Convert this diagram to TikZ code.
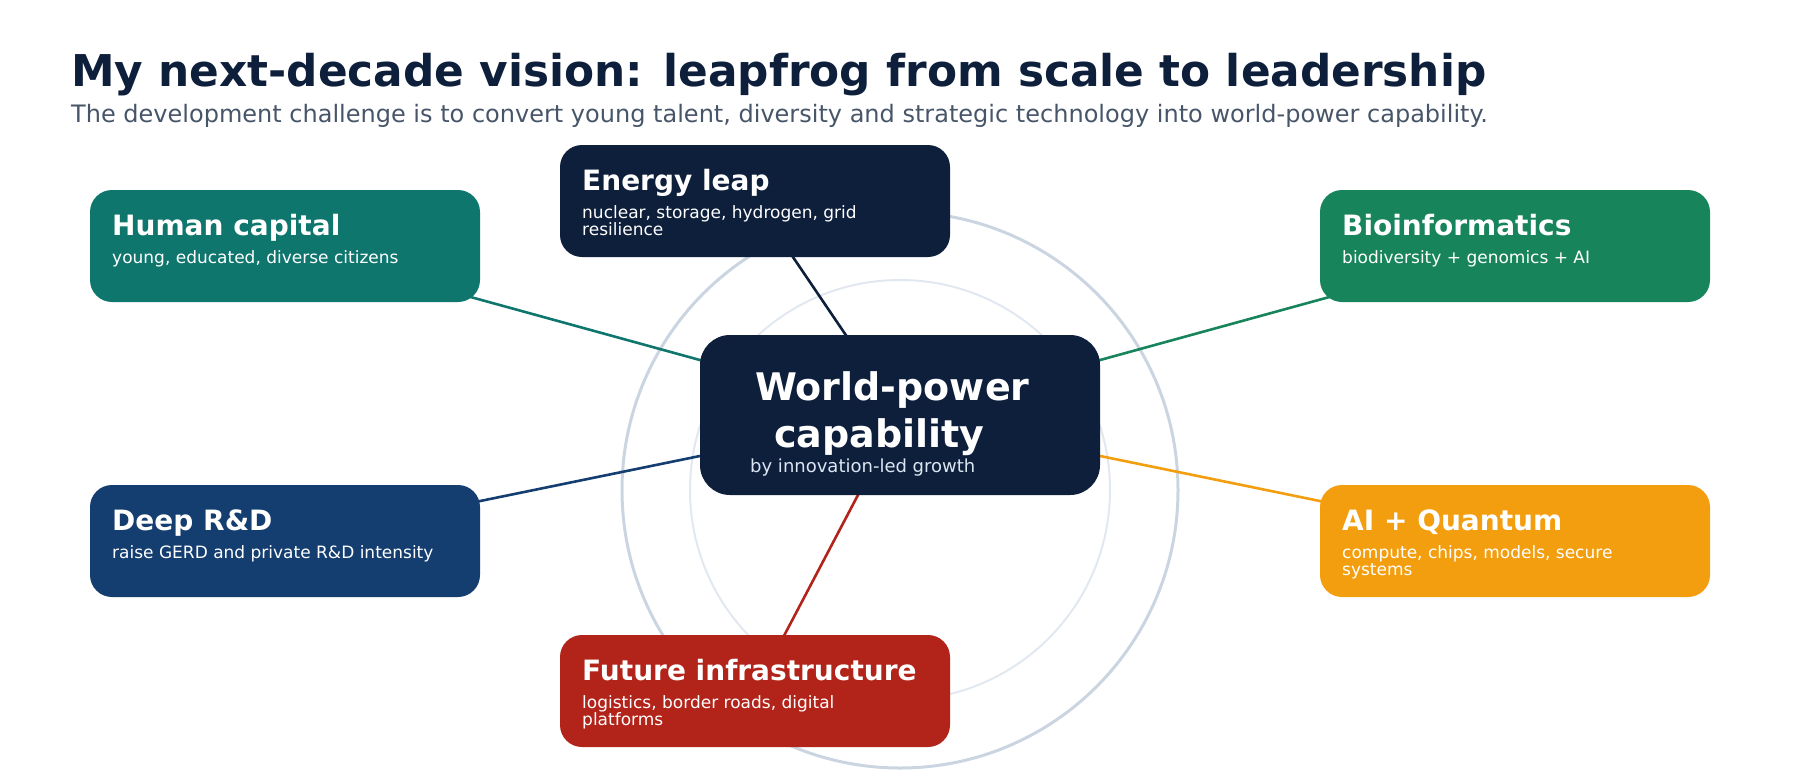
\documentclass[tikz,border=0pt]{standalone}
\usepackage{fontspec}
\setmainfont{DejaVu Sans}
\usetikzlibrary{backgrounds}
\pgfdeclarelayer{rings}
\pgfdeclarelayer{background}
\pgfsetlayers{rings,background,main}
\definecolor{navy}{HTML}{0E1F3B}
\definecolor{slate}{HTML}{475569}
\definecolor{tealc}{HTML}{0F766E}
\definecolor{greenc}{HTML}{18845C}
\definecolor{bluec}{HTML}{143D70}
\definecolor{amber}{HTML}{F39E0F}
\definecolor{redc}{HTML}{B2231A}
\definecolor{ringo}{HTML}{CBD5E1}
\definecolor{ringi}{HTML}{E2E8F0}
\definecolor{subc}{HTML}{DCE5F2}
\tikzset{
  card/.style={rounded corners=22pt, minimum width=390pt, minimum height=112pt, inner sep=0pt, draw=none},
  hub/.style={rounded corners=30pt, minimum width=400pt, minimum height=160pt, inner sep=0pt, fill=navy},
  ttl/.style={anchor=base west, inner sep=0pt, text=white, font=\fontsize{28}{30}\selectfont\bfseries},
  sub/.style={anchor=base west, inner sep=0pt, text=white, align=left, font=\fontsize{17}{17}\selectfont},
  hubt/.style={anchor=base west, inner sep=0pt, text=white, font=\fontsize{38}{40}\selectfont\bfseries},
  conn/.style={line width=2.6pt},
}
\begin{document}
\begin{tikzpicture}[x=1pt,y=-1pt]
\useasboundingbox (0,0) rectangle (1800,780);
% title
\node[anchor=base west, inner sep=0pt, text=navy, font=\fontsize{43.8}{48}\selectfont\bfseries] (title) at (71,86) {My next-decade vision: leapfrog from scale to leadership};
\node[anchor=base west, inner sep=0pt, text=slate, font=\fontsize{24}{28}\selectfont] (subtitle) at (71,122) {The development challenge is to convert young talent, diversity and strategic technology into world-power capability.};
% rings
\begin{pgfonlayer}{rings}
\coordinate (ringc) at (900,490);
\draw[ringo, line width=3pt] (ringc) circle (278);
\draw[ringi, line width=2pt] (ringc) circle (210);
\end{pgfonlayer}
% hub
\node[hub] (c) at (900,415) {};
\node[hubt] (c1) at (755,400) {World-power};
\node[hubt] (c2) at (774,447) {capability};
\node[anchor=base west, inner sep=0pt, text=subc, font=\fontsize{18}{20}\selectfont] (c3) at (750,472) {by innovation-led growth};
% cards
\node[card, fill=tealc] (h) at (285,246) {};
\node[ttl] (h1) at (112,235) {Human capital};
\node[sub] (h2) at (112,263) {young, educated, diverse citizens};
\node[card, fill=navy] (e) at (755,201) {};
\node[ttl] (e1) at (582,190) {Energy leap};
\node[sub] (e2) at (582,235) {nuclear, storage, hydrogen, grid\\resilience};
\node[card, fill=greenc] (b) at (1515,246) {};
\node[ttl] (b1) at (1342,235) {Bioinformatics};
\node[sub] (b2) at (1342,263) {biodiversity + genomics + AI};
\node[card, fill=bluec] (d) at (285,541) {};
\node[ttl] (d1) at (112,530) {Deep R\&D};
\node[sub] (d2) at (112,558) {raise GERD and private R\&D intensity};
\node[card, fill=amber] (a) at (1515,541) {};
\node[ttl] (a1) at (1342,530) {AI + Quantum};
\node[sub] (a2) at (1342,575) {compute, chips, models, secure\\systems};
\node[card, fill=redc] (f) at (755,691) {};
\node[ttl] (f1) at (582,680) {Future infrastructure};
\node[sub] (f2) at (582,725) {logistics, border roads, digital\\platforms};
% connectors behind cards
\begin{pgfonlayer}{background}
\draw[conn, tealc] (h.center) -- (c.center);
\draw[conn, navy] (e.center) -- (c.center);
\draw[conn, greenc] (b.center) -- (c.center);
\draw[conn, bluec] (d.center) -- (c.center);
\draw[conn, amber] (a.center) -- (c.center);
\draw[conn, redc] (f.center) -- (c.center);
\end{pgfonlayer}
\end{tikzpicture}
\end{document}
